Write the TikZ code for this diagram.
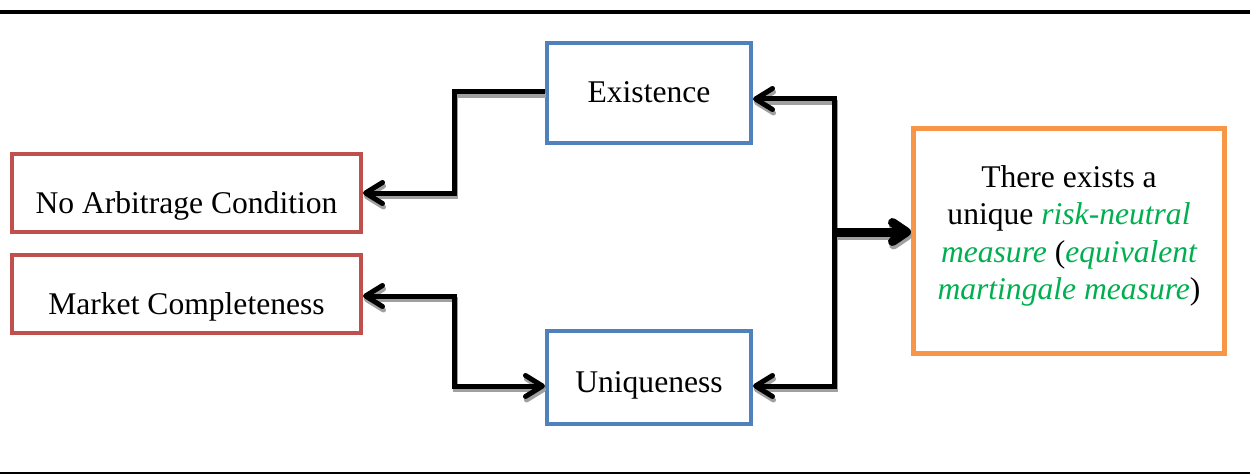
\documentclass[tikz,border=0pt]{standalone}
\usepackage{fontspec}
\setmainfont{Liberation Serif}
\usetikzlibrary{arrows.meta}
\definecolor{boxblue}{HTML}{4F81BD}
\definecolor{boxred}{HTML}{C0504D}
\definecolor{boxorange}{HTML}{F79646}
\definecolor{textgreen}{HTML}{00B050}
\definecolor{shadowgray}{HTML}{A0A0A0}
\tikzset{
  box/.style={draw, rectangle, inner sep=0pt, fill=white},
  bluebox/.style={box, draw=boxblue, line width=4pt, minimum width=204pt, minimum height=100pt},
  redbox/.style={box, draw=boxred, line width=4pt, minimum width=349pt, minimum height=78pt},
  orangebox/.style={box, draw=boxorange, line width=5pt, minimum width=311pt, minimum height=225pt},
  lbl/.style={inner sep=0pt, anchor=base, font=\fontsize{31.6}{37.3}\selectfont},
  tipA/.tip={Straight Barb[round,length=17pt,width=21pt]},
  tipB/.tip={Straight Barb[round,length=14pt,width=19pt]},
  conn/.style={line width=5pt, arrows={tipA-tipA}},
  bigconn/.style={line width=9pt, arrows={-tipB}},
}
\newcommand\drawconnectors{%
  \draw[conn, arrows={-tipA}] ([yshift=1pt]exist.west) -| (jl |- narb.east) -- (narb.east);
  \draw[conn] ([yshift=-2pt]mcomp.east) -| (jl |- uniq.west) |- ([yshift=-8.5pt]uniq.west);
  \draw[conn, arrows={tipA-}] ([yshift=-6pt]exist.east) -| (bus);
  \draw[conn, arrows={tipA-}] ([yshift=-8.5pt]uniq.east) -| (bus);
  \draw[bigconn] (bus) -- (bus -| meas.west);
}
\begin{document}
\begin{tikzpicture}[x=1pt,y=-1pt]
\useasboundingbox (0,0) rectangle (1250,476);
\draw[line width=4pt] (0,12) -- (1250,12);
\draw[line width=2.5pt] (0,473) -- (1250,473);

\node[bluebox] (exist) at (649,93) {};
\node[bluebox, minimum height=93pt] (uniq) at (649,377.5) {};
\node[redbox] (narb) at (186.5,193) {};
\node[redbox] (mcomp) at (186.5,294) {};
\node[orangebox] (meas) at (1069,241) {};

\node[lbl] (existT) at (649,103) {Existence};
\node[lbl] (uniqT) at (649,392) {Uniqueness};
\node[lbl] (narbT) at (186.5,213) {No Arbitrage Condition};
\node[lbl] (mcompT) at (186.5,314) {Market Completeness};
\node[inner sep=0pt, align=center, font=\fontsize{31.6}{37.3}\selectfont] (measT) at (1069,236)
  {There exists a\\
   unique \textcolor{textgreen}{\itshape risk-neutral}\\
   \textcolor{textgreen}{\itshape measure} (\textcolor{textgreen}{\itshape equivalent}\\
   \textcolor{textgreen}{\itshape martingale measure})};

\coordinate (bus) at (834,232);
\coordinate (jl) at (454.5,0);

\begin{scope}[transform canvas={shift={(1pt,-3.5pt)}}, draw=shadowgray]
  \drawconnectors
\end{scope}
\drawconnectors
\end{tikzpicture}
\end{document}
